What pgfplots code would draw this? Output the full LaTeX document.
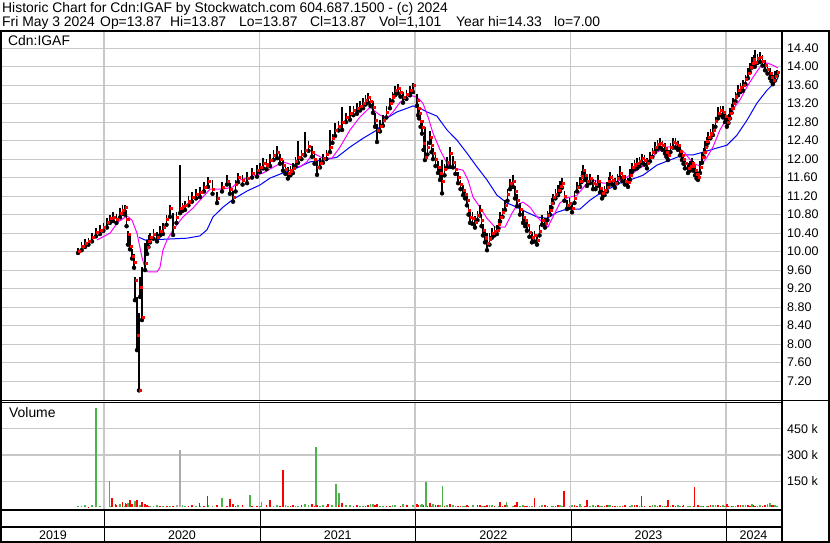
\documentclass[border=0pt]{standalone}
\usepackage{pgfplots}
\pgfplotsset{compat=1.18}
\usepackage{pgfplotstable}
\usepackage{fontspec}
\setmainfont{Liberation Sans}
\definecolor{gridgray}{RGB}{200,200,200}
\definecolor{volgreen}{RGB}{76,178,76}
\definecolor{volgray}{RGB}{170,170,170}
\definecolor{mamag}{RGB}{255,0,255}
\definecolor{mablue}{RGB}{0,0,255}

\pgfplotstableread{
t lo hi cl
2019.833 9.97 10.08 10.00
2019.878 10.10 10.28 10.18
2019.923 10.22 10.40 10.31
2019.974 10.38 10.58 10.47
2020.019 10.52 10.72 10.64
2020.058 10.66 10.86 10.75
2020.103 10.74 10.95 10.83
2020.135 10.80 11.00 10.96
2020.154 10.15 10.45 10.38
2020.167 10.05 10.35 10.12
2020.180 9.85 10.05 9.90
2020.193 9.65 9.95 9.77
2020.199 8.95 9.45 9.39
2020.212 7.87 9.02 8.20
2020.225 7.00 8.67 7.00
2020.232 9.02 9.45 9.23
2020.244 8.52 9.66 8.58
2020.264 9.60 10.18 9.75
2020.277 9.95 10.25 10.10
2020.296 10.20 10.40 10.31
2020.341 10.22 10.42 10.31
2020.379 10.38 10.62 10.53
2020.424 10.75 11.00 10.94
2020.444 10.36 10.83 10.53
2020.489 10.83 11.87 10.94
2020.521 10.90 11.10 11.00
2020.566 11.08 11.28 11.18
2020.617 11.18 11.40 11.29
2020.669 11.40 11.62 11.53
2020.727 11.05 11.28 11.16
2020.791 11.45 11.66 11.53
2020.830 11.08 11.30 11.18
2020.862 11.50 11.70 11.61
2020.920 11.48 11.72 11.59
2020.984 11.62 11.88 11.76
2021.023 11.80 12.02 11.91
2021.068 11.85 12.10 11.98
2021.113 12.02 12.28 12.15
2021.151 11.75 11.98 11.87
2021.183 11.58 11.82 11.70
2021.215 11.70 11.92 11.81
2021.248 11.92 12.40 12.04
2021.293 12.08 12.58 12.20
2021.338 12.05 12.28 12.15
2021.370 11.66 11.95 11.83
2021.408 11.92 12.12 12.02
2021.453 12.15 12.63 12.26
2021.486 12.50 12.78 12.63
2021.531 12.63 13.12 12.80
2021.582 12.85 13.15 12.99
2021.627 12.98 13.22 13.10
2021.666 13.10 13.32 13.21
2021.698 13.22 13.42 13.34
2021.730 13.00 13.25 13.12
2021.756 12.37 12.75 12.63
2021.794 12.72 12.95 12.84
2021.839 13.10 13.32 13.21
2021.871 13.38 13.58 13.49
2021.891 13.42 13.62 13.54
2021.923 13.22 13.45 13.34
2021.968 13.38 13.58 13.49
2021.987 13.45 13.65 13.60
2022.013 13.15 13.40 13.28
2022.026 12.88 13.12 12.99
2022.045 12.55 12.80 12.69
2022.064 11.98 12.69 12.04
2022.096 12.35 12.60 12.48
2022.116 12.00 12.25 12.13
2022.148 11.70 11.95 11.83
2022.174 11.26 11.98 11.53
2022.206 11.82 12.05 11.94
2022.225 11.83 12.26 12.13
2022.244 11.82 12.06 11.94
2022.277 11.48 11.72 11.61
2022.309 11.22 11.45 11.33
2022.334 11.00 11.22 11.11
2022.354 10.62 10.88 10.75
2022.386 10.52 10.78 10.64
2022.418 10.78 11.00 10.90
2022.437 10.35 10.60 10.47
2022.463 10.03 10.40 10.18
2022.495 10.30 10.52 10.40
2022.527 10.38 10.58 10.47
2022.547 10.65 10.85 10.75
2022.579 10.90 11.12 11.01
2022.611 11.35 11.58 11.48
2022.630 11.40 11.65 11.53
2022.656 10.98 11.25 11.11
2022.695 10.62 10.88 10.75
2022.720 10.45 10.68 10.57
2022.752 10.20 10.42 10.31
2022.785 10.15 10.35 10.25
2022.817 10.58 10.80 10.68
2022.836 10.52 10.72 10.62
2022.868 10.80 11.00 10.90
2022.887 11.05 11.25 11.18
2022.920 11.22 11.45 11.33
2022.945 11.38 11.60 11.48
2022.977 10.92 11.12 11.01
2023.010 10.85 11.05 10.94
2023.042 11.30 11.50 11.40
2023.061 11.40 11.62 11.53
2023.080 11.65 11.88 11.76
2023.106 11.42 11.62 11.53
2023.145 11.35 11.58 11.48
2023.177 11.42 11.65 11.53
2023.203 11.15 11.38 11.26
2023.235 11.30 11.50 11.40
2023.254 11.50 11.72 11.61
2023.286 11.38 11.60 11.48
2023.318 11.60 11.85 11.70
2023.350 11.45 11.65 11.53
2023.370 11.40 11.60 11.50
2023.395 11.72 11.92 11.83
2023.428 11.80 12.02 11.91
2023.460 11.92 12.12 12.02
2023.492 11.80 12.02 11.91
2023.511 11.95 12.15 12.04
2023.543 12.15 12.38 12.26
2023.576 12.25 12.45 12.35
2023.608 12.12 12.35 12.24
2023.627 11.98 12.20 12.09
2023.659 12.25 12.45 12.37
2023.691 12.20 12.40 12.30
2023.717 11.98 12.20 12.09
2023.736 11.80 12.02 11.91
2023.756 11.70 11.92 11.81
2023.781 11.80 12.02 11.91
2023.801 11.65 11.88 11.76
2023.820 11.55 11.72 11.61
2023.846 11.92 12.15 12.04
2023.865 12.15 12.40 12.26
2023.884 12.35 12.58 12.48
2023.916 12.52 12.75 12.63
2023.949 12.88 13.12 13.00
2023.981 12.90 13.15 13.02
2024.006 12.70 12.92 12.80
2024.026 12.88 13.10 12.99
2024.045 13.10 13.32 13.21
2024.077 13.38 13.60 13.49
2024.109 13.48 13.70 13.60
2024.141 13.75 13.98 13.86
2024.167 13.98 14.20 14.08
2024.186 14.00 14.35 14.10
2024.219 14.10 14.31 14.21
2024.251 13.92 14.15 14.03
2024.283 13.75 13.98 13.86
2024.302 13.62 13.82 13.71
2024.328 13.80 13.92 13.87
}\price

\pgfplotstableread{
t lo hi cl
2019.856 10.03 10.20 10.12
2019.900 10.15 10.30 10.22
2019.948 10.33 10.50 10.42
2019.996 10.45 10.62 10.53
2020.038 10.62 10.80 10.72
2020.080 10.62 10.82 10.70
2020.119 10.82 11.00 10.90
2020.145 10.55 10.90 10.70
2020.286 10.10 10.35 10.22
2020.318 10.28 10.48 10.38
2020.360 10.35 10.55 10.45
2020.402 10.58 10.80 10.70
2020.466 10.62 10.85 10.75
2020.505 10.88 11.05 10.98
2020.543 11.00 11.20 11.08
2020.592 11.15 11.35 11.25
2020.643 11.30 11.50 11.40
2020.698 11.25 11.55 11.35
2020.759 11.30 11.50 11.40
2020.810 11.25 11.48 11.35
2020.846 11.30 11.55 11.45
2020.891 11.45 11.65 11.55
2020.952 11.60 11.80 11.70
2021.003 11.72 11.92 11.82
2021.045 11.78 12.00 11.88
2021.090 11.98 12.20 12.08
2021.132 11.90 12.10 12.00
2021.167 11.68 11.90 11.78
2021.199 11.65 11.85 11.75
2021.231 11.85 12.05 11.95
2021.270 12.00 12.20 12.10
2021.315 12.18 12.40 12.28
2021.354 11.90 12.10 12.00
2021.389 11.82 12.02 11.92
2021.430 12.00 12.20 12.10
2021.469 12.35 12.55 12.45
2021.508 12.62 12.82 12.72
2021.556 12.80 13.00 12.90
2021.604 12.95 13.15 13.05
2021.646 13.05 13.25 13.15
2021.682 13.18 13.38 13.28
2021.714 13.15 13.35 13.25
2021.743 12.70 13.00 12.85
2021.775 12.60 12.85 12.72
2021.816 12.90 13.15 13.02
2021.855 13.25 13.45 13.35
2021.907 13.35 13.55 13.45
2021.945 13.30 13.50 13.40
2022.020 12.95 13.20 13.10
2022.036 12.70 12.95 12.82
2022.055 12.20 12.50 12.35
2022.080 12.10 12.40 12.25
2022.106 12.15 12.45 12.30
2022.132 11.85 12.10 12.00
2022.161 11.55 11.85 11.70
2022.190 11.65 11.90 11.78
2022.260 11.68 11.90 11.78
2022.293 11.35 11.55 11.45
2022.322 11.15 11.35 11.25
2022.344 10.80 11.00 10.90
2022.370 10.60 10.85 10.72
2022.402 10.68 10.88 10.78
2022.428 10.55 10.80 10.68
2022.450 10.20 10.42 10.30
2022.479 10.15 10.40 10.28
2022.511 10.35 10.55 10.45
2022.537 10.50 10.70 10.60
2022.563 10.75 10.95 10.85
2022.595 11.10 11.35 11.25
2022.643 11.15 11.42 11.30
2022.675 10.80 11.05 10.92
2022.708 10.55 10.78 10.68
2022.736 10.32 10.55 10.42
2022.768 10.22 10.45 10.35
2022.801 10.35 10.58 10.45
2022.852 10.68 10.88 10.78
2022.878 10.95 11.15 11.05
2022.903 11.15 11.35 11.25
2022.932 11.30 11.52 11.42
2022.961 11.10 11.32 11.20
2022.994 10.95 11.15 11.05
2023.026 11.05 11.30 11.15
2023.070 11.50 11.75 11.62
2023.093 11.55 11.78 11.65
2023.125 11.48 11.68 11.58
2023.161 11.35 11.55 11.45
2023.190 11.28 11.50 11.38
2023.219 11.22 11.42 11.32
2023.244 11.42 11.62 11.52
2023.270 11.45 11.65 11.55
2023.302 11.48 11.68 11.58
2023.334 11.52 11.72 11.62
2023.383 11.55 11.78 11.65
2023.411 11.78 11.98 11.88
2023.444 11.85 12.05 11.95
2023.476 11.88 12.08 11.98
2023.527 12.05 12.25 12.15
2023.560 12.22 12.42 12.32
2023.592 12.20 12.40 12.30
2023.617 12.05 12.25 12.15
2023.643 12.15 12.35 12.25
2023.675 12.25 12.45 12.35
2023.704 12.08 12.30 12.18
2023.727 11.90 12.10 12.00
2023.768 11.75 11.95 11.85
2023.791 11.75 11.95 11.85
2023.811 11.58 11.78 11.68
2023.833 11.70 11.95 11.82
2023.856 12.05 12.25 12.15
2023.874 12.28 12.48 12.38
2023.900 12.45 12.65 12.55
2023.932 12.70 12.92 12.82
2023.965 12.95 13.15 13.05
2023.994 12.80 13.02 12.92
2024.016 12.78 12.98 12.88
2024.036 13.00 13.20 13.10
2024.061 13.25 13.45 13.35
2024.093 13.45 13.65 13.55
2024.125 13.62 13.82 13.72
2024.154 13.88 14.08 13.98
2024.177 14.00 14.25 14.15
2024.202 14.08 14.28 14.18
2024.235 14.02 14.25 14.12
2024.267 13.85 14.05 13.95
2024.293 13.68 13.88 13.78
2024.315 13.70 13.90 13.80
}\priceB

\pgfplotstableread{
t v
2019.955 10.25
2020.039 10.40
2020.090 10.64
2020.148 10.77
2020.180 10.68
2020.212 10.40
2020.244 9.88
2020.264 9.64
2020.283 9.56
2020.341 9.56
2020.360 9.66
2020.379 10.03
2020.405 10.25
2020.444 10.47
2020.508 10.75
2020.572 10.94
2020.617 11.11
2020.682 11.35
2020.765 11.35
2020.830 11.40
2020.875 11.55
2020.939 11.61
2021.023 11.70
2021.113 11.87
2021.151 11.94
2021.215 11.87
2021.260 11.83
2021.305 11.94
2021.344 12.13
2021.408 12.02
2021.466 12.02
2021.518 12.26
2021.582 12.63
2021.646 12.91
2021.711 13.12
2021.775 12.95
2021.820 12.89
2021.859 13.02
2021.904 13.23
2021.968 13.38
2022.013 13.34
2022.051 13.21
2022.084 12.91
2022.116 12.56
2022.161 12.20
2022.206 11.91
2022.244 11.81
2022.309 11.76
2022.341 11.55
2022.373 11.18
2022.418 10.96
2022.463 10.72
2022.514 10.53
2022.579 10.53
2022.624 10.83
2022.656 11.01
2022.695 11.07
2022.740 10.96
2022.785 10.75
2022.823 10.62
2022.855 10.53
2022.887 10.75
2022.932 11.05
2022.977 11.16
2023.042 11.22
2023.106 11.48
2023.145 11.55
2023.209 11.48
2023.273 11.48
2023.363 11.61
2023.428 11.76
2023.492 11.91
2023.556 12.15
2023.621 12.26
2023.685 12.28
2023.736 12.13
2023.788 11.91
2023.833 11.85
2023.878 12.04
2023.916 12.26
2023.961 12.63
2024.026 12.99
2024.090 13.28
2024.135 13.56
2024.174 13.77
2024.219 13.99
2024.264 14.08
2024.302 14.03
2024.334 13.97
}\maA

\pgfplotstableread{
t v
2020.225 10.31
2020.264 10.25
2020.405 10.27
2020.534 10.29
2020.617 10.34
2020.662 10.47
2020.701 10.75
2020.765 10.96
2020.830 11.13
2020.920 11.31
2021.003 11.44
2021.068 11.59
2021.151 11.70
2021.241 11.81
2021.325 11.94
2021.408 11.98
2021.498 12.04
2021.582 12.26
2021.666 12.45
2021.756 12.63
2021.820 12.89
2021.884 13.02
2021.949 13.10
2021.987 13.15
2022.032 13.10
2022.077 13.02
2022.141 12.93
2022.206 12.63
2022.270 12.41
2022.334 12.13
2022.399 11.83
2022.463 11.55
2022.527 11.22
2022.592 11.05
2022.656 10.96
2022.720 10.85
2022.785 10.75
2022.849 10.72
2022.913 10.85
2022.977 10.92
2023.061 10.92
2023.125 11.11
2023.190 11.26
2023.254 11.37
2023.318 11.48
2023.383 11.55
2023.466 11.65
2023.556 11.87
2023.640 11.98
2023.723 12.09
2023.788 12.09
2023.852 12.15
2023.942 12.24
2024.006 12.30
2024.071 12.52
2024.135 12.84
2024.199 13.21
2024.264 13.49
2024.315 13.66
2024.334 13.75
}\maB

\pgfplotstableread{
t v
2019.833 8
2019.856 10
2019.878 12
2019.923 15
2019.948 14
2019.950 570
2019.974 6
2020.036 151
2020.038 8
2020.103 18
2020.119 16
2020.135 10
2020.154 28
2020.199 35
2020.232 12
2020.296 9
2020.318 6
2020.341 15
2020.379 8
2020.402 9
2020.424 6
2020.505 12
2020.521 10
2020.592 8
2020.617 7
2020.669 12
2020.698 10
2020.759 52
2020.810 9
2020.862 14
2020.891 12
2020.939 70
2021.003 7
2021.013 30
2021.090 10
2021.113 12
2021.167 12
2021.183 8
2021.231 8
2021.248 10
2021.293 18
2021.315 16
2021.363 345
2021.389 9
2021.408 14
2021.466 12
2021.469 11
2021.492 135
2021.511 83
2021.556 14
2021.582 16
2021.646 8
2021.666 10
2021.714 18
2021.730 20
2021.775 10
2021.794 9
2021.855 12
2021.871 12
2021.923 18
2021.945 9
2021.987 14
2022.036 14
2022.045 22
2022.071 147
2022.106 10
2022.116 20
2022.161 12
2022.177 122
2022.206 15
2022.244 12
2022.260 9
2022.309 10
2022.322 11
2022.370 8
2022.373 14
2022.428 10
2022.437 8
2022.479 12
2022.495 12
2022.537 9
2022.589 29
2022.595 14
2022.630 10
2022.675 8
2022.695 14
2022.736 11
2022.752 8
2022.801 9
2022.817 12
2022.878 10
2022.887 10
2022.932 12
2022.945 8
2022.994 9
2023.010 16
2023.061 20
2023.070 11
2023.125 8
2023.145 12
2023.190 10
2023.203 8
2023.244 12
2023.254 14
2023.302 9
2023.318 10
2023.383 11
2023.395 12
2023.444 10
2023.460 8
2023.527 12
2023.543 14
2023.592 8
2023.608 10
2023.643 10
2023.691 12
2023.704 9
2023.756 8
2023.768 11
2023.833 8
2023.846 10
2023.874 10
2023.916 12
2023.932 12
2023.981 14
2023.994 9
2024.045 8
2024.061 11
2024.109 16
2024.125 14
2024.167 22
2024.202 10
2024.219 12
2024.267 18
2024.283 24
2024.315 12
2024.328 10
}\volG

\pgfplotstableread{
t v
2019.900 5
2020.051 52
2020.075 20
2020.080 12
2020.119 30
2020.138 25
2020.145 18
2020.167 45
2020.180 22
2020.212 40
2020.244 30
2020.264 18
2020.277 12
2020.286 10
2020.360 8
2020.405 8
2020.444 10
2020.466 7
2020.543 10
2020.566 14
2020.615 23
2020.643 9
2020.666 64
2020.727 12
2020.791 8
2020.810 46
2020.830 20
2020.846 11
2020.890 16
2020.952 8
2020.984 10
2021.045 12
2021.068 41
2021.132 9
2021.151 215
2021.199 10
2021.215 12
2021.270 14
2021.338 20
2021.354 11
2021.370 14
2021.430 9
2021.440 18
2021.508 12
2021.531 26
2021.604 10
2021.627 12
2021.682 8
2021.698 15
2021.743 14
2021.756 22
2021.816 9
2021.839 10
2021.907 11
2021.950 15
2022.013 20
2022.020 12
2022.055 16
2022.080 10
2022.096 25
2022.132 12
2022.148 14
2022.190 9
2022.225 18
2022.277 10
2022.293 11
2022.334 14
2022.344 8
2022.402 12
2022.418 12
2022.450 10
2022.463 16
2022.511 9
2022.547 29
2022.563 11
2022.579 12
2022.643 12
2022.656 29
2022.708 10
2022.720 10
2022.768 9
2022.770 52
2022.836 14
2022.852 11
2022.903 10
2022.920 12
2022.958 93
2022.961 8
2023.026 12
2023.042 10
2023.093 10
2023.106 41
2023.161 9
2023.177 12
2023.219 11
2023.235 14
2023.270 10
2023.286 10
2023.334 9
2023.350 16
2023.411 12
2023.428 12
2023.457 64
2023.476 10
2023.511 10
2023.560 9
2023.576 14
2023.617 11
2023.627 41
2023.659 12
2023.675 10
2023.720 10
2023.727 12
2023.791 9
2023.798 116
2023.820 14
2023.856 10
2023.884 10
2023.900 12
2023.949 12
2023.965 9
2024.006 18
2024.016 11
2024.036 10
2024.077 14
2024.093 12
2024.141 12
2024.154 9
2024.177 14
2024.186 10
2024.235 10
2024.251 14
2024.293 12
2024.302 16
}\volR

\pgfplotstableread{
t v
2020.470 15
2020.489 326
}\volGr

\begin{document}
\begin{tikzpicture}
\useasboundingbox (0pt,0pt) rectangle (830pt,543pt);
\fill[white] (0pt,0pt) rectangle (830pt,543pt);
\def\hfont{\fontsize{13.9}{15}\selectfont}
\node[anchor=base west, inner sep=0pt, font=\hfont] at (2pt,530.5pt) {Historic Chart for Cdn:IGAF by Stockwatch.com 604.687.1500 - (c) 2024};
\node[anchor=base west, inner sep=0pt, font=\hfont] at (2pt,516pt) {Fri May 3 2024};
\node[anchor=base west, inner sep=0pt, font=\hfont] at (100pt,516pt) {Op=13.87};
\node[anchor=base west, inner sep=0pt, font=\hfont] at (170pt,516pt) {Hi=13.87};
\node[anchor=base west, inner sep=0pt, font=\hfont] at (239pt,516pt) {Lo=13.87};
\node[anchor=base west, inner sep=0pt, font=\hfont] at (310pt,516pt) {Cl=13.87};
\node[anchor=base west, inner sep=0pt, font=\hfont] at (379pt,516pt) {Vol=1,101};
\node[anchor=base west, inner sep=0pt, font=\hfont] at (456pt,516pt) {Year hi=14.33};
\node[anchor=base west, inner sep=0pt, font=\hfont] at (554pt,516pt) {lo=7.00};

\pgfplotsset{
  chartbase/.style={
    scale only axis, anchor=south west,
    width=779pt,
    xmin=2019.344, xmax=2024.354,
    xtick={2020,2021,2022,2023,2024}, xticklabels={},
    major tick length=0pt,
    axis line style={draw=none},
    grid=major, grid style={gridgray, line width=1.2pt},
    yticklabel pos=right,
    yticklabel style={anchor=west, inner sep=0pt, xshift=6pt, font=\fontsize{12.5}{14}\selectfont},
    /pgf/number format/assume math mode=true,
    clip=true,
  },
  candle/.style={only marks, mark=none, error bars/.cd, y dir=plus, y explicit, error mark=none,
    error bar style={black, line width=1.5pt}},
  closemark/.style={only marks, mark=square*, mark size=1.05pt, red, mark options={draw=none, fill=red, xshift=1.1pt}},
}

\begin{axis}[chartbase, at={(2pt,142pt)}, height=370pt,
  ymin=6.77, ymax=14.77,
  ytick={7.2,7.6,8,8.4,8.8,9.2,9.6,10,10.4,10.8,11.2,11.6,12,12.4,12.8,13.2,13.6,14,14.4},
  yticklabel style={/pgf/number format/.cd, fixed, fixed zerofill, precision=2},
]
\addplot[mablue, line width=1pt] table[x=t,y=v] {\maB};
\addplot[mamag, line width=1pt] table[x=t,y=v] {\maA};
\addplot[candle] table[x=t, y=lo, y error plus expr=\thisrow{hi}-\thisrow{lo}] {\price};
\addplot[candle] table[x=t, y=lo, y error plus expr=\thisrow{hi}-\thisrow{lo}] {\priceB};
\addplot[closemark] table[x=t, y=cl] {\price};
\addplot[closemark] table[x=t, y=cl] {\priceB};
\end{axis}

\begin{axis}[chartbase, at={(2pt,33pt)}, height=108pt,
  ymin=-14.4, ymax=602,
  ytick={150,300,450}, yticklabels={150 k,300 k,450 k},
]
\addplot[ycomb, volgreen, line width=1.5pt] table[x=t,y=v] {\volG};
\addplot[ycomb, red, line width=1.5pt] table[x=t,y=v] {\volR};
\addplot[ycomb, volgray, line width=1.5pt] table[x=t,y=v] {\volGr};
\end{axis}

% labels inside panels
\node[anchor=base west, inner sep=0pt, font=\hfont] at (8pt,497pt) {Cdn:IGAF};
\node[anchor=base west, inner sep=0pt, font=\hfont] at (9pt,125.5pt) {Volume};

% frame
\draw[black, line width=2pt] (0pt,511.5pt) -- (830pt,511.5pt);
\draw[black, line width=2.5pt] (1.2pt,0pt) -- (1.2pt,512.5pt);
\draw[black, line width=2pt] (828.5pt,0pt) -- (828.5pt,512.5pt);
\draw[black, line width=2pt] (781.5pt,0pt) -- (781.5pt,512.5pt);
\draw[black, line width=1pt] (0pt,142.3pt) -- (781pt,142.3pt);
\draw[black, line width=1pt] (0pt,140.3pt) -- (781pt,140.3pt);
\draw[black, line width=1.5pt] (781pt,142.5pt) -- (829pt,142.5pt);
\draw[black, line width=2pt] (0pt,33pt) -- (781pt,33pt);
\draw[black, line width=2pt] (0pt,15.5pt) -- (781pt,15.5pt);
\draw[black, line width=2pt] (0pt,1pt) -- (830pt,1pt);
\foreach \xx in {104,260,415.5,571,726} {\draw[black, line width=1pt] (\xx pt,1pt) -- (\xx pt,33pt);}
% year labels
\foreach \xx/\yy in {53/2019,182/2020,337.8/2021,493.3/2022,648.5/2023,753.5/2024}
  {\node[anchor=base, inner sep=0pt, font=\fontsize{12.5}{14}\selectfont] at (\xx pt,3pt) {\yy};}
\end{tikzpicture}
\end{document}
